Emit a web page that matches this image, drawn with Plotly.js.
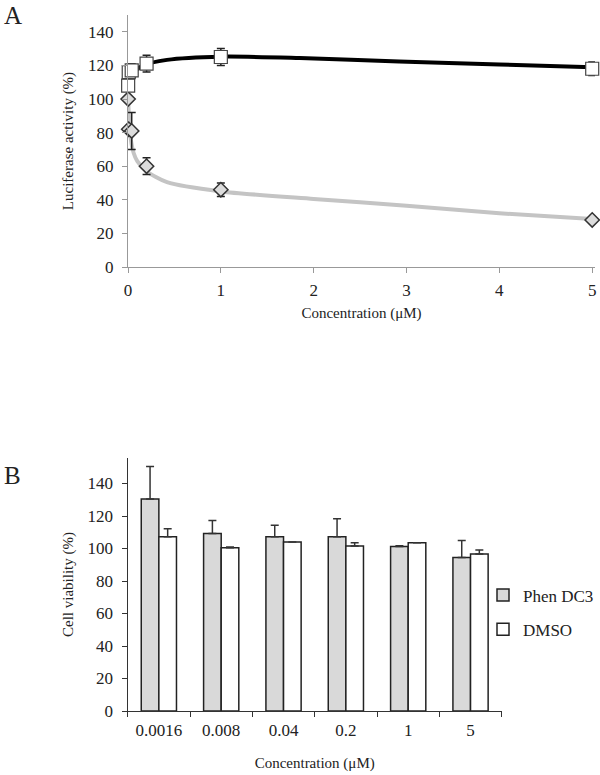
<!DOCTYPE html>
<html>
<head>
<meta charset="utf-8">
<script src="https://cdn.plot.ly/plotly-3.0.1.min.js"></script>
<style>html,body{margin:0;padding:0;background:#fff;overflow:hidden;}#plot{width:600px;height:775px;}</style>
</head>
<body>
<div id="plot"></div>
<script>
// ---------- Panel A data ----------
const concA = [0.0016, 0.008, 0.04, 0.2, 1, 5];
const ctrlSquares = [108, 116, 117, 121, 125, 118];
const ctrlSquaresErr = [0, 2, 4, 5, 5, 4];
const phenDiamonds = [100, 82, 81, 60, 46, 28];
const phenDiamondsErr = [0, 0, 11, 5, 4, 1];
// fitted curves
const fitBlackX = [0.005, 0.02, 0.06, 0.16, 0.42, 1, 1.85, 2.92, 4.0, 5];
const fitBlackY = [110, 113, 116, 119.9, 123.3, 125.2, 124.4, 122.3, 120.5, 118.9];
const fitGrayX = [0.003, 0.01, 0.03, 0.06, 0.1, 0.2, 0.42, 1, 2, 3, 4, 5];
const fitGrayY = [98, 90, 76, 68, 63, 57, 50.5, 45, 40.5, 36.5, 32, 28.5];

// ---------- Panel B data ----------
const concB = ['0.0016', '0.008', '0.04', '0.2', '1', '5'];
const phenViab = [130.5, 109.3, 107.3, 107.3, 101.3, 94.4];
const phenViabErr = [20, 8, 7, 11, 0.4, 10.6];
const dmsoViab = [107.2, 100.5, 104, 101.5, 103.5, 96.6];
const dmsoViabErr = [5, 0.4, 0, 2, 0, 2.5];

const FONT = 'Liberation Serif';
const TXT = '#222';

const traces = [
  {x: fitGrayX, y: fitGrayY, type: 'scatter', mode: 'lines', line: {color: '#c4c4c4', width: 4, shape: 'spline', smoothing: 0.7}, xaxis: 'x', yaxis: 'y', showlegend: false, hoverinfo: 'skip'},
  {x: fitBlackX, y: fitBlackY, type: 'scatter', mode: 'lines', line: {color: '#000', width: 4, shape: 'spline', smoothing: 0.8}, xaxis: 'x', yaxis: 'y', showlegend: false, hoverinfo: 'skip'},
  {x: concA, y: phenDiamonds, type: 'scatter', mode: 'markers', xaxis: 'x', yaxis: 'y', showlegend: false, cliponaxis: false,
   marker: {symbol: 'diamond', size: 11, color: '#dcdcdc', line: {color: '#333', width: 1.5}},
   error_y: {type: 'data', array: phenDiamondsErr, visible: true, color: '#222', thickness: 1.5, width: 4}},
  {x: concA, y: ctrlSquares, type: 'scatter', mode: 'markers', xaxis: 'x', yaxis: 'y', showlegend: false, cliponaxis: false,
   marker: {symbol: 'square', size: 13, color: '#fff', line: {color: '#444', width: 1.2}},
   error_y: {type: 'data', array: ctrlSquaresErr, visible: true, color: '#222', thickness: 1.5, width: 4}},
  {x: concB, y: phenViab, type: 'bar', name: 'Phen DC3', xaxis: 'x2', yaxis: 'y2', legendgroup: 'a',
   marker: {color: '#d9d9d9', line: {color: '#222', width: 1.5}},
   error_y: {type: 'data', array: phenViabErr, arrayminus: phenViabErr.map(() => 0), symmetric: false, visible: true, color: '#333', thickness: 1.5, width: 4}},
  {x: concB, y: dmsoViab, type: 'bar', name: 'DMSO', xaxis: 'x2', yaxis: 'y2', legendgroup: 'b',
   marker: {color: '#fff', line: {color: '#222', width: 1.5}},
   error_y: {type: 'data', array: dmsoViabErr, arrayminus: dmsoViabErr.map(() => 0), symmetric: false, visible: true, color: '#333', thickness: 1.5, width: 4}}
];

const layout = {
  width: 600, height: 775,
  margin: {l: 0, r: 0, t: 0, b: 0},
  paper_bgcolor: '#fff', plot_bgcolor: 'rgba(0,0,0,0)',
  font: {family: FONT, size: 17, color: TXT},
  showlegend: true,
  legend: {x: 0.805, y: 0.2097, xanchor: 'left', yanchor: 'middle', font: {size: 17, family: FONT, color: TXT}, tracegroupgap: 9, itemwidth: 30, bgcolor: 'rgba(0,0,0,0)', borderwidth: 0},
  barmode: 'group', bargap: 0.435, bargroupgap: 0,
  xaxis: {domain: [128/600, 595/600], range: [0, 5.03], anchor: 'y', tickvals: [0,1,2,3,4,5], ticks: 'outside', ticklen: 5, tickcolor: '#999',
          showline: true, linecolor: '#999', linewidth: 1, showgrid: false, zeroline: false, ticklabelstandoff: 3,
          tickfont: {size: 17}, title: {text: 'Concentration (μM)', font: {size: 15}, standoff: 8}},
  yaxis: {domain: [1 - 267/775, 1 - 15/775], range: [0, 150], anchor: 'x', tickvals: [0,20,40,60,80,100,120,140], ticks: 'outside', ticklen: 5, tickcolor: '#999',
          showline: true, linecolor: '#999', linewidth: 1, showgrid: false, zeroline: false, ticklabelstandoff: 5,
          tickfont: {size: 17}, title: {text: 'Luciferase activity (%)', font: {size: 15}, standoff: 10}},
  xaxis2: {domain: [127.7/600, 501.7/600], anchor: 'y2', type: 'category', tickson: 'boundaries', ticks: 'outside', ticklen: 5, tickcolor: '#333',
           showline: true, linecolor: '#333', linewidth: 1.2, showgrid: false, zeroline: false, ticklabelstandoff: 3,
           tickfont: {size: 17}, title: {text: 'Concentration (μM)', font: {size: 15}, standoff: 19}},
  yaxis2: {domain: [1 - 711/775, 1 - 458/775], range: [0, 155.7], anchor: 'x2', tickvals: [0,20,40,60,80,100,120,140], ticks: 'outside', ticklen: 5, tickcolor: '#333',
           showline: true, linecolor: '#333', linewidth: 1.2, showgrid: false, zeroline: false, ticklabelstandoff: 5,
           tickfont: {size: 17}, title: {text: 'Cell viability (%)', font: {size: 15}, standoff: 10}},
  annotations: [
    {text: 'A', xref: 'paper', yref: 'paper', x: 2/600, y: 1 - 15/775, xanchor: 'left', yanchor: 'middle', showarrow: false, font: {size: 25, family: FONT, color: TXT}},
    {text: 'B', xref: 'paper', yref: 'paper', x: 2/600, y: 1 - 475/775, xanchor: 'left', yanchor: 'middle', showarrow: false, font: {size: 25, family: FONT, color: TXT}}
  ]
};

Plotly.newPlot('plot', traces, layout, {staticPlot: true});
</script>
</body>
</html>
